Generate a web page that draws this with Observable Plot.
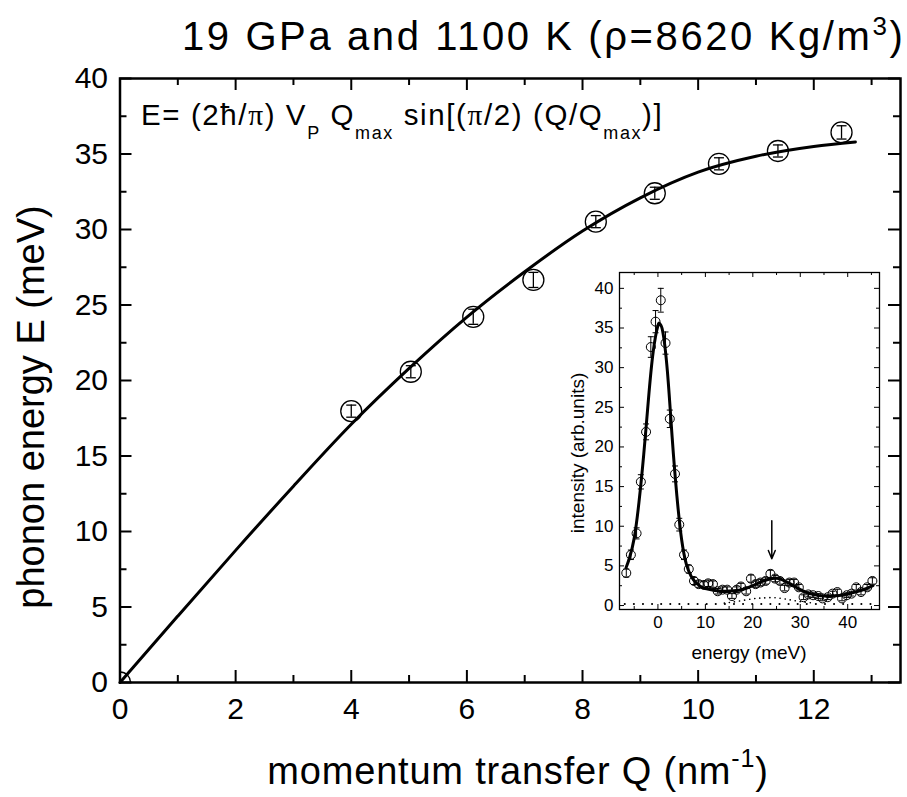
<!DOCTYPE html>
<html><head><meta charset="utf-8">
<script src="https://cdn.jsdelivr.net/npm/d3@7"></script>
<script src="https://cdn.jsdelivr.net/npm/@observablehq/plot@0.6"></script>
<style>
body{margin:0;background:#fff;}
#wrap{position:relative;width:907px;height:797px;overflow:hidden;background:#fff;}
#wrap svg{position:absolute;overflow:visible;}
</style></head><body><div id="wrap"></div>
<script>
// ---------- data ----------
const titleText = "19 GPa and 1100 K (ρ=8620 Kg/m";
const xLabel = "momentum transfer Q (nm";
const yLabel = "phonon energy E (meV)";
// measured phonon dispersion points
const qPoints = [0, 4.0, 5.03, 6.11, 7.15, 8.23, 9.25, 10.36, 11.38, 12.48];
const ePoints = [0, 17.97, 20.58, 24.22, 26.66, 30.52, 32.4, 34.35, 35.2, 36.43];
const eErr    = [0, 0.4, 0.4, 0.5, 0.5, 0.4, 0.4, 0.4, 0.4, 0.44];
// sine fit curve
const qCurve = [0, 1, 2, 3, 4, 5, 6, 7, 8, 9, 10, 11, 12, 12.72];
const eCurve = [0, 4.4, 8.75, 13.0, 17.1, 20.8, 24.2, 27.2, 29.9, 32.1, 33.8, 34.85, 35.5, 35.8];
const xTicks = [0, 2, 4, 6, 8, 10, 12];
const xMinor = [1, 3, 5, 7, 9, 11, 13];
const yTicks = [0, 5, 10, 15, 20, 25, 30, 35, 40];
const yMinor = [2.5, 7.5, 12.5, 17.5, 22.5, 27.5, 32.5, 37.5];

// inset: IXS spectrum
const inE = [-6.67,-5.7,-4.5,-3.6,-2.5,-1.5,-0.5,0.6,1.6,2.5,3.6,4.5,5.5,6.5,7.6,8.6,9.7,10.6,11.6,12.6,13.6,14.6,15.6,16.6,17.5,18.6,19.6,20.6,21.6,22.7,23.7,24.7,25.7,26.7,27.7,28.7,29.7,30.7,31.7,32.7,33.8,34.7,35.8,36.8,37.8,38.8,39.8,40.8,41.8,42.8,44.1,45.2];
const inI = [4.1,6.4,9.1,15.6,21.9,32.6,35.8,38.5,33.1,23.55,16.6,10.2,6.4,4.6,3.1,2.7,2.6,2.8,2.7,1.8,2.0,2.0,1.2,2.0,2.4,1.8,3.4,2.7,2.9,3.1,4.0,3.4,3.1,2.2,2.9,2.9,2.3,1.05,1.4,1.3,1.2,0.9,1.05,1.5,1.7,0.9,1.3,1.5,2.3,1.7,2.3,3.1];
const inErr = [0.5,0.6,0.7,0.9,1.0,1.3,1.4,1.5,1.4,1.1,1.0,0.8,0.6,0.5,0.45,0.4,0.4,0.4,0.4,0.35,0.35,0.35,0.3,0.35,0.4,0.35,0.45,0.4,0.4,0.4,0.45,0.4,0.4,0.35,0.4,0.4,0.35,0.3,0.3,0.3,0.3,0.3,0.3,0.3,0.35,0.3,0.3,0.3,0.35,0.35,0.35,0.4];
const fitE = [-6.7,-6,-5,-4,-3,-2,-1,0,0.4,1,2,3,4,5,6,7,8,9,10,12,14,16,18,20,22,24,25,26,28,30,32,34,36,38,40,42,44,45.3];
const fitI = [4.8,6.0,8.5,13.0,19.0,26.0,32.0,35.3,35.5,34.6,29.5,21.2,13.8,8.3,5.2,3.7,2.9,2.4,2.15,1.9,1.8,1.85,2.05,2.5,3.05,3.4,3.45,3.3,2.7,2.0,1.5,1.25,1.15,1.25,1.45,1.75,2.15,2.5];
const baseE = [-7, 45];
const baseI = [0.2, 0.2];
const bumpE = [14, 17, 20, 22, 24, 26, 28, 30, 33];
const bumpI = [0.3, 0.55, 0.85, 0.95, 1.0, 0.9, 0.7, 0.5, 0.3];
const arrowE = 24, arrowFrom = 10.7, arrowTo = 5.9;
const inXTicks = [0, 10, 20, 30, 40];
const inXMinor = [-5, 5, 15, 25, 35, 45];
const inYTicks = [0, 5, 10, 15, 20, 25, 30, 35, 40];
const inYMinor = [2.5, 7.5, 12.5, 17.5, 22.5, 27.5, 32.5, 37.5];

// ---------- layout ----------
const FONT = "'Liberation Sans', Arial, Helvetica, sans-serif";
const W = 907, H = 797, mL = 119.5, mR = 7, mT = 78, mB = 115;
const iw = W - mL - mR, ih = H - mT - mB;
const hline = {draw(ctx, size) { const r = Math.sqrt(size / Math.PI); ctx.moveTo(-r, 0); ctx.lineTo(r, 0); }};

const pts = qPoints.map((q, i) => ({q, e: ePoints[i], err: eErr[i]}));
const errPts = pts.filter(d => d.err > 0);
const fit = qCurve.map((q, i) => ({q, e: eCurve[i]}));

const main = Plot.plot({
  width: W, height: H, marginLeft: mL, marginRight: mR, marginTop: mT, marginBottom: mB,
  style: {fontFamily: FONT, fontSize: "30px", color: "#000", background: "transparent"},
  x: {domain: [0, 13.5]},
  y: {domain: [0, 40]},
  marks: [
    Plot.tickX(xTicks, {x: d => d, insetTop: ih - 12, strokeWidth: 2}),
    Plot.tickX(xMinor, {x: d => d, insetTop: ih - 7, strokeWidth: 2}),
    Plot.tickX(xTicks, {x: d => d, insetBottom: ih - 12, strokeWidth: 2}),
    Plot.tickX(xMinor, {x: d => d, insetBottom: ih - 7, strokeWidth: 2}),
    Plot.tickY(yTicks, {y: d => d, insetRight: iw - 12, strokeWidth: 2}),
    Plot.tickY(yMinor, {y: d => d, insetRight: iw - 7, strokeWidth: 2}),
    Plot.tickY(yTicks, {y: d => d, insetLeft: iw - 12, strokeWidth: 2}),
    Plot.tickY(yMinor, {y: d => d, insetLeft: iw - 7, strokeWidth: 2}),
    Plot.axisX(xTicks, {tickSize: 0, tickPadding: 15, label: null, fontSize: 30}),
    Plot.axisY(yTicks, {tickSize: 0, tickPadding: 12, label: null, fontSize: 30}),
    Plot.line(fit, {x: "q", y: "e", strokeWidth: 3, curve: "monotone-x"}),
    Plot.ruleX(errPts, {x: "q", y1: d => d.e - d.err, y2: d => d.e + d.err, strokeWidth: 1.3}),
    Plot.dot(errPts, {x: "q", y: d => d.e + d.err, symbol: hline, r: 5, stroke: "black", strokeWidth: 1.3}),
    Plot.dot(errPts, {x: "q", y: d => d.e - d.err, symbol: hline, r: 5, stroke: "black", strokeWidth: 1.3}),
    Plot.dot(pts, {x: "q", y: "e", r: 10.5, stroke: "black", strokeWidth: 1.3, fill: "none", clip: true}),
    Plot.frame({strokeWidth: 2.5})
  ]
});
main.style.left = "0px"; main.style.top = "0px";
document.getElementById("wrap").appendChild(main);

const ms = d3.select(main);
const tt = ms.append("text").attr("x", 182).attr("y", 50).attr("text-anchor", "start")
  .attr("font-size", 40).attr("font-family", FONT).attr("fill", "#000").attr("letter-spacing", 2.6);
tt.append("tspan").text(titleText);
tt.append("tspan").attr("font-size", 26).attr("dy", -15).text("3");
tt.append("tspan").attr("dy", 15).text(")");
// y title
ms.append("text").attr("transform", "translate(44,407) rotate(-90)").attr("text-anchor", "middle")
  .attr("font-size", 38).attr("font-family", FONT).attr("fill", "#000").text(yLabel);
// x title
const xt = ms.append("text").attr("x", 518).attr("y", 784).attr("text-anchor", "middle")
  .attr("font-size", 38).attr("font-family", FONT).attr("fill", "#000").attr("letter-spacing", 0.8);
xt.append("tspan").text(xLabel);
xt.append("tspan").attr("font-size", 25).attr("dy", -17).text("-1");
xt.append("tspan").attr("dy", 17).text(")");
// formula
const fx = ms.append("text").attr("x", 141).attr("y", 125).attr("text-anchor", "start")
  .attr("font-size", 29.5).attr("font-family", FONT).attr("fill", "#000").attr("letter-spacing", 1.6);
const serif = "'Liberation Serif', 'Times New Roman', serif";
fx.append("tspan").text("E= (2ħ/");
fx.append("tspan").attr("font-family", serif).text("π");
fx.append("tspan").text(") V");
fx.append("tspan").attr("font-size", 18).attr("dy", 14).text("P");
fx.append("tspan").attr("dy", -14).text(" Q");
fx.append("tspan").attr("font-size", 18).attr("dy", 14).text("max");
fx.append("tspan").attr("dy", -14).text(" sin[(");
fx.append("tspan").attr("font-family", serif).text("π");
fx.append("tspan").text("/2) (Q/Q");
fx.append("tspan").attr("font-size", 18).attr("dy", 14).text("max");
fx.append("tspan").attr("dy", -14).text(")]");

// ---------- inset ----------
const iW = 330, iH = 407, imL = 60, imR = 10, imT = 10, imB = 60;
const iiw = iW - imL - imR, iih = iH - imT - imB;
const ipts = inE.map((e, i) => ({e, v: inI[i], err: inErr[i]}));
const ifit = fitE.map((e, i) => ({e, v: fitI[i]}));
const ibase = baseE.map((e, i) => ({e, v: baseI[i]}));
const ibump = bumpE.map((e, i) => ({e, v: bumpI[i]}));

const inset = Plot.plot({
  width: iW, height: iH, marginLeft: imL, marginRight: imR, marginTop: imT, marginBottom: imB,
  style: {fontFamily: FONT, fontSize: "17px", color: "#000", background: "transparent"},
  x: {domain: [-8.1, 46.7]},
  y: {domain: [-0.5, 42]},
  marks: [
    Plot.tickX(inXTicks, {x: d => d, insetTop: iih - 5, strokeWidth: 1}),
    Plot.tickX(inXMinor, {x: d => d, insetTop: iih - 3, strokeWidth: 1}),
    Plot.tickX(inXTicks, {x: d => d, insetBottom: iih - 5, strokeWidth: 1}),
    Plot.tickX(inXMinor, {x: d => d, insetBottom: iih - 3, strokeWidth: 1}),
    Plot.tickY(inYTicks, {y: d => d, insetRight: iiw - 5, strokeWidth: 1}),
    Plot.tickY(inYMinor, {y: d => d, insetRight: iiw - 3, strokeWidth: 1}),
    Plot.tickY(inYTicks, {y: d => d, insetLeft: iiw - 5, strokeWidth: 1}),
    Plot.tickY(inYMinor, {y: d => d, insetLeft: iiw - 3, strokeWidth: 1}),
    Plot.axisX(inXTicks, {tickSize: 0, tickPadding: 6, label: null, fontSize: 17}),
    Plot.axisY(inYTicks, {tickSize: 0, tickPadding: 6, label: null, fontSize: 17}),
    Plot.line(ibase, {x: "e", y: "v", strokeWidth: 2, strokeDasharray: "0.1,9", strokeLinecap: "round"}),
    Plot.line(ibump, {x: "e", y: "v", strokeWidth: 1.6, strokeDasharray: "0.1,5", strokeLinecap: "round", curve: "natural"}),
    Plot.ruleX(ipts, {x: "e", y1: d => d.v - d.err, y2: d => d.v + d.err, strokeWidth: 1}),
    Plot.dot(ipts, {x: "e", y: d => d.v + d.err, symbol: hline, r: 3, stroke: "black", strokeWidth: 1}),
    Plot.dot(ipts, {x: "e", y: d => d.v - d.err, symbol: hline, r: 3, stroke: "black", strokeWidth: 1}),
    Plot.dot(ipts, {x: "e", y: "v", r: 4.5, stroke: "black", strokeWidth: 1, fill: "none"}),
    Plot.line(ifit, {x: "e", y: "v", strokeWidth: 3, curve: "natural"}),
    Plot.arrow([{}], {x1: () => arrowE, x2: () => arrowE, y1: () => arrowFrom, y2: () => arrowTo, strokeWidth: 1.5, headLength: 9, headAngle: 45}),
    Plot.frame({strokeWidth: 1.3})
  ]
});
inset.style.left = "559px"; inset.style.top = "262px";
document.getElementById("wrap").appendChild(inset);
const is = d3.select(inset);
is.append("text").attr("transform", "translate(24.5,191) rotate(-90)").attr("text-anchor", "middle")
  .attr("font-size", 19).attr("font-family", FONT).attr("fill", "#000").text("intensity (arb.units)");
is.append("text").attr("x", 190).attr("y", 397).attr("text-anchor", "middle")
  .attr("font-size", 19).attr("font-family", FONT).attr("fill", "#000").text("energy (meV)");
</script></body></html>
